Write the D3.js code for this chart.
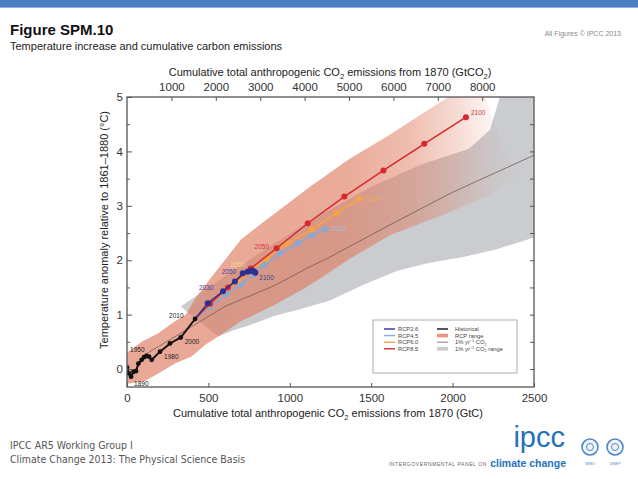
<!DOCTYPE html>
<html>
<head>
<meta charset="utf-8">
<script src="https://cdn.jsdelivr.net/npm/d3@7"></script>
<style>
  body { margin: 0; background: #fff; }
  svg { display: block; font-family: "Liberation Sans", Arial, sans-serif; }
</style>
</head>
<body>
<svg id="chart" width="638" height="479"></svg>
<script>
// cumulative emissions (GtC) vs temperature anomaly (°C)
const historical = [[0, 0.03], [12, -0.08], [25, -0.14], [40, -0.05], [55, -0.04], [70, 0.1], [90, 0.17],
  [105, 0.22], [120, 0.24], [135, 0.23], [152, 0.17], [203, 0.32], [264, 0.47], [330, 0.58], [418, 0.92]];
const rcp26 = [[418, 0.92], [496, 1.21], [590, 1.43], [663, 1.61], [711, 1.76], [740, 1.79], [758, 1.8],
  [772, 1.81], [782, 1.79], [788, 1.77]];
const rcp45 = [[418, 0.92], [510, 1.14], [605, 1.36], [700, 1.56], [780, 1.74], [840, 1.91], [940, 2.13],
  [1052, 2.31], [1134, 2.46], [1216, 2.57]];
const rcp60 = [[418, 0.92], [505, 1.18], [590, 1.42], [680, 1.62], [770, 1.83], [858, 2.03], [981, 2.31],
  [1134, 2.56], [1288, 2.87], [1427, 3.13]];
const rcp85 = [[418, 0.92], [510, 1.2], [620, 1.5], [760, 1.85], [919, 2.22], [1110, 2.68], [1335, 3.17],
  [1575, 3.65], [1826, 4.14], [2082, 4.63]];

// RCP range envelope
const rcpUpper = [[0, 0.3], [90, 0.5], [192, 0.66], [295, 0.88], [360, 1.0], [420, 1.3], [500, 1.62],
  [600, 2.0], [700, 2.38], [820, 2.66], [1124, 3.35], [1370, 3.87], [1595, 4.27], [1880, 4.82],
  [2000, 5.05], [2150, 5.4]];
const rcpLower = [[0, -0.27], [110, -0.22], [192, -0.08], [295, 0.1], [397, 0.23], [479, 0.44],
  [561, 0.6], [700, 0.88], [909, 1.18], [1104, 1.51], [1204, 1.7], [1370, 2.03], [1615, 2.46],
  [1964, 2.86], [2230, 3.2], [2380, 3.55]];

// 1% yr-1 CO2 runs
const pctLine = [[100, 0.25], [192, 0.41], [397, 0.78], [602, 1.15], [909, 1.54], [1104, 1.85],
  [1247, 2.06], [1615, 2.65], [2000, 3.25], [2500, 3.93]];
const pctUpper = [[330, 1.15], [600, 1.7], [900, 2.3], [1200, 2.85], [1500, 3.35], [1800, 3.75],
  [2100, 4.05], [2230, 4.4], [2290, 5.0], [2500, 5.3]];
const pctLower = [[560, 0.6], [663, 0.72], [766, 0.82], [909, 0.98], [1062, 1.1], [1247, 1.26],
  [1452, 1.55], [1657, 1.8], [1850, 1.95], [2066, 2.06], [2270, 2.2], [2500, 2.42]];

const gtcTicks = [0, 500, 1000, 1500, 2000, 2500];
const gtco2Ticks = [1000, 2000, 3000, 4000, 5000, 6000, 7000, 8000];
const tempTicks = [0, 1, 2, 3, 4, 5];

const series = [
  {name: 'RCP4.5', data: rcp45, color: '#82aadb'},
  {name: 'RCP6.0', data: rcp60, color: '#f6a540'},
  {name: 'RCP8.5', data: rcp85, color: '#d8282d'},
  {name: 'RCP2.6', data: rcp26, color: '#2d2f93'}
];

// year tags: which series, which point, offset in px
const yearTags = [
  {s: historical, i: 2, t: '1890', dx: 3, dy: 9, c: '#222'},
  {s: historical, i: 7, t: '1950', dx: -14, dy: -5, c: '#222'},
  {s: historical, i: 11, t: '1980', dx: 4, dy: 7, c: '#222'},
  {s: historical, i: 13, t: '2000', dx: 4, dy: 7, c: '#222'},
  {s: historical, i: 14, t: '2010', dx: -26, dy: -1, c: '#222'},
  {s: rcp26, i: 2, t: '2030', dx: -24, dy: -1, c: '#3a3d98'},
  {s: rcp26, i: 4, t: '2050', dx: -21, dy: 1, c: '#3a3d98'},
  {s: rcp26, i: 9, t: '2100', dx: 4, dy: 7, c: '#3a3d98'},
  {s: rcp60, i: 4, t: '2050', dx: -22, dy: -2, c: '#f9d48e'},
  {s: rcp85, i: 4, t: '2050', dx: -22, dy: 1, c: '#d8383c'},
  {s: rcp85, i: 9, t: '2100', dx: 5, dy: -2, c: '#d8383c'},
  {s: rcp60, i: 9, t: '2100', dx: 6, dy: 2, c: '#f6aa50'},
  {s: rcp45, i: 9, t: '2100', dx: 6, dy: 2, c: '#a9c3e6'}
];

const svg = d3.select('svg#chart'),
  plot = {left: 127, right: 534, top: 97, bottom: 387};

// header
svg.append('rect').attr('x', 0).attr('y', 0).attr('width', 638).attr('height', 7).attr('fill', '#4c7fbf');
svg.append('rect').attr('x', 0).attr('y', 7).attr('width', 638).attr('height', 1).attr('fill', '#8fb0da');
svg.append('text').attr('x', 10).attr('y', 35).attr('font-size', 15).attr('font-weight', 'bold')
  .attr('fill', '#111').text('Figure SPM.10');
svg.append('text').attr('x', 10).attr('y', 50).attr('font-size', 11).attr('fill', '#222')
  .text('Temperature increase and cumulative carbon emissions');
svg.append('text').attr('x', 621).attr('y', 36).attr('font-size', 7).attr('fill', '#888')
  .attr('text-anchor', 'end').text('All Figures © IPCC 2013');

let x = d3.scaleLinear().domain([0, 2500]).range([plot.left, plot.right]),
  xCO2 = d3.scaleLinear().domain([0, 2500 * 44 / 12]).range([plot.left, plot.right]),
  y = d3.scaleLinear().domain([-0.33, 5]).range([plot.bottom, plot.top]);

const defs = svg.append('defs');
defs.append('clipPath').attr('id', 'plotclip').append('rect')
  .attr('x', plot.left).attr('y', plot.top)
  .attr('width', plot.right - plot.left).attr('height', plot.bottom - plot.top);

const grad = defs.append('linearGradient').attr('id', 'rcpfade')
  .attr('gradientUnits', 'userSpaceOnUse')
  .attr('x1', x(0)).attr('y1', 0).attr('x2', x(2400)).attr('y2', 0);
[[0, 0.66], [0.55, 0.64], [0.72, 0.5], [0.84, 0.28], [0.93, 0.08], [1, 0]].forEach(s => {
  grad.append('stop').attr('offset', s[0]).attr('stop-color', '#de7b5f').attr('stop-opacity', s[1]);
});

const line = d3.line().x(d => x(d[0])).y(d => y(d[1]));
const band = (up, lo) => line(up.concat(lo.slice().reverse())) + 'Z';

const g = svg.append('g').attr('clip-path', 'url(#plotclip)');

g.append('path').attr('d', band(pctUpper, pctLower)).attr('fill', '#caccd0');
g.append('path').attr('d', band(rcpUpper, rcpLower)).attr('fill', 'url(#rcpfade)');
g.append('path').attr('d', line(pctLine)).attr('fill', 'none')
  .attr('stroke', '#6e5c57').attr('stroke-width', 0.8);

series.forEach(s => {
  g.append('path').attr('d', line(s.data)).attr('fill', 'none')
    .attr('stroke', s.color).attr('stroke-width', 1.5);
  g.selectAll(null).data(s.data.slice(1)).enter().append('circle')
    .attr('cx', d => x(d[0])).attr('cy', d => y(d[1])).attr('r', 3)
    .attr('fill', s.color);
});

g.append('path').attr('d', line(historical)).attr('fill', 'none')
  .attr('stroke', '#111').attr('stroke-width', 2);
g.selectAll('circle.hist').data(historical).enter().append('circle')
  .classed('hist', true)
  .attr('cx', d => x(d[0])).attr('cy', d => y(d[1])).attr('r', 2.4)
  .attr('fill', '#111');

g.selectAll('text.year').data(yearTags).enter().append('text')
  .classed('year', true)
  .attr('x', d => x(d.s[d.i][0]) + d.dx).attr('y', d => y(d.s[d.i][1]) + d.dy)
  .attr('font-size', 6.5).attr('fill', d => d.c).text(d => d.t);

// axes, ticks pointing inward
const axisStyle = sel => {
  sel.select('.domain').remove();
  sel.selectAll('line').attr('stroke', '#555');
  sel.selectAll('text').attr('fill', '#333').attr('font-size', 11.5)
    .attr('font-family', '"Liberation Sans", Arial, sans-serif');
};
const intFmt = d3.format('d');

svg.append('g').attr('transform', `translate(0,${plot.bottom})`)
  .call(d3.axisBottom(x).tickValues(gtcTicks).tickFormat(intFmt).tickSize(-4).tickPadding(7))
  .call(axisStyle);
svg.append('g').attr('transform', `translate(0,${plot.top})`)
  .call(d3.axisTop(xCO2).tickValues(gtco2Ticks).tickFormat(intFmt).tickSize(-4).tickPadding(6))
  .call(axisStyle);
svg.append('g').attr('transform', `translate(${plot.left},0)`)
  .call(d3.axisLeft(y).tickValues(tempTicks).tickFormat(intFmt).tickSize(-5).tickPadding(4))
  .call(axisStyle);
svg.append('g').attr('transform', `translate(${plot.left},0)`)
  .call(d3.axisLeft(y).tickValues(d3.range(0.5, 5, 1)).tickSize(-3).tickFormat('')).call(axisStyle);
svg.append('g').attr('transform', `translate(${plot.right},0)`)
  .call(d3.axisRight(y).tickValues(d3.range(0, 5, 0.5)).tickSize(-4).tickFormat('')).call(axisStyle);

svg.append('rect').attr('x', plot.left).attr('y', plot.top)
  .attr('width', plot.right - plot.left).attr('height', plot.bottom - plot.top)
  .attr('fill', 'none').attr('stroke', '#555').attr('stroke-width', 1.3);

// axis titles
const bottomTitle = svg.append('text').attr('x', 328).attr('y', 417).attr('text-anchor', 'middle')
  .attr('font-size', 11).attr('fill', '#222');
bottomTitle.append('tspan').text('Cumulative total anthropogenic CO');
bottomTitle.append('tspan').attr('font-size', 7.5).attr('dy', 3).text('2');
bottomTitle.append('tspan').attr('dy', -3).text(' emissions from 1870 (GtC)');

const topTitle = svg.append('text').attr('x', 330).attr('y', 76).attr('text-anchor', 'middle')
  .attr('font-size', 11).attr('fill', '#222');
topTitle.append('tspan').text('Cumulative total anthropogenic CO');
topTitle.append('tspan').attr('font-size', 7.5).attr('dy', 3).text('2');
topTitle.append('tspan').attr('dy', -3).text(' emissions from 1870 (GtCO');
topTitle.append('tspan').attr('font-size', 7.5).attr('dy', 3).text('2');
topTitle.append('tspan').attr('dy', -3).text(')');

svg.append('text').attr('transform', 'translate(108,230) rotate(-90)').attr('text-anchor', 'middle')
  .attr('font-size', 11).attr('fill', '#222')
  .text('Temperature anomaly relative to 1861–1880 (°C)');

// legend
const lg = svg.append('g').attr('transform', 'translate(373,320)');
lg.append('rect').attr('width', 144).attr('height', 53).attr('fill', '#fff')
  .attr('stroke', '#999').attr('stroke-width', 0.8);
const leftKeys = series.slice().sort((a, b) => a.name < b.name ? -1 : 1);
leftKeys.forEach((s, i) => {
  lg.append('line').attr('x1', 11).attr('x2', 22).attr('y1', 9 + i * 6.6).attr('y2', 9 + i * 6.6)
    .attr('stroke', s.color).attr('stroke-width', 1.4);
  lg.append('text').attr('x', 25).attr('y', 11 + i * 6.6).attr('font-size', 5.8).attr('fill', '#444')
    .text(s.name);
});
const rightKeys = [
  {kind: 'line', color: '#111', w: 1.4, label: ['Historical']},
  {kind: 'rect', color: '#e8977f', label: ['RCP range']},
  {kind: 'line', color: '#6e5c57', w: 0.8, label: ['1% yr', '−1', ' CO', '2']},
  {kind: 'rect', color: '#c9cbce', label: ['1% yr', '−1', ' CO', '2', ' range']}
];
rightKeys.forEach((k, i) => {
  const yy = 9 + i * 6.6;
  if (k.kind === 'line')
    lg.append('line').attr('x1', 64).attr('x2', 75).attr('y1', yy).attr('y2', yy)
      .attr('stroke', k.color).attr('stroke-width', k.w);
  else
    lg.append('rect').attr('x', 64).attr('y', yy - 1.8).attr('width', 11).attr('height', 3.6)
      .attr('fill', k.color);
  const t = lg.append('text').attr('x', 82).attr('y', yy + 2).attr('font-size', 5.8).attr('fill', '#444');
  k.label.forEach((part, j) => {
    const ts = t.append('tspan').text(part);
    if (j === 1) ts.attr('font-size', 3.8).attr('dy', -2);
    if (j === 2) ts.attr('dy', 2);
    if (j === 3) ts.attr('font-size', 3.8).attr('dy', 1.5);
    if (j === 4) ts.attr('dy', -1.5);
  });
});

// footer
const foot = svg.append('g').attr('font-family', '"Liberation Sans Narrow", "DejaVu Sans Condensed", sans-serif')
  .attr('fill', '#555').attr('font-size', 10.5);
foot.append('text').attr('x', 10).attr('y', 449).text('IPCC AR5 Working Group I');
foot.append('text').attr('x', 10).attr('y', 463).text('Climate Change 2013: The Physical Science Basis');

svg.append('text').attr('x', 565).attr('y', 447).attr('text-anchor', 'end')
  .attr('font-family', '"Liberation Sans Narrow", sans-serif').attr('font-size', 29)
  .attr('fill', '#2473ba').text('ipcc');
svg.append('text').attr('x', 487).attr('y', 466).attr('text-anchor', 'end')
  .attr('font-size', 5).attr('letter-spacing', 0.6).attr('fill', '#666')
  .text('INTERGOVERNMENTAL PANEL ON');
svg.append('text').attr('x', 566).attr('y', 467).attr('text-anchor', 'end')
  .attr('font-size', 10.5).attr('font-weight', 'bold').attr('fill', '#2473ba')
  .text('climate change');

[[590, 'WMO'], [615, 'UNEP']].forEach(e => {
  svg.append('circle').attr('cx', e[0]).attr('cy', 447).attr('r', 8)
    .attr('fill', '#f2f6fb').attr('stroke', '#4f86c6').attr('stroke-width', 1.6);
  svg.append('circle').attr('cx', e[0]).attr('cy', 447).attr('r', 3.5)
    .attr('fill', 'none').attr('stroke', '#4f86c6').attr('stroke-width', 1);
  svg.append('text').attr('x', e[0]).attr('y', 465).attr('text-anchor', 'middle')
    .attr('font-size', 4).attr('fill', '#4f86c6').text(e[1]);
});
</script>
</body>
</html>
